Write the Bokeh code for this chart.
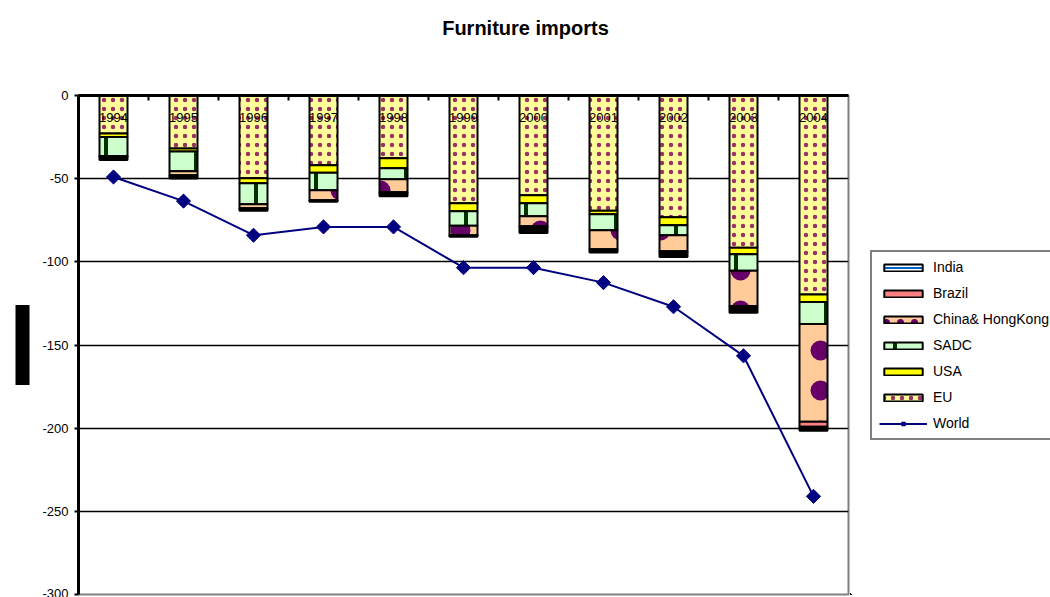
import math

from bokeh.embed import file_html
from bokeh.layouts import column, row
from bokeh.models import (ColumnDataSource, FixedTicker, Label, Legend,
                          LegendItem, LinearAxis, PrintfTickFormatter, Range1d,
                          Title)
from bokeh.plotting import figure
from bokeh.resources import INLINE

# Furniture imports by origin (negative = imports), stacked from zero downwards
years = ["1994", "1995", "1996", "1997", "1998", "1999",
         "2000", "2001", "2002", "2003", "2004"]
eu = [-22.8, -31.8, -49.8, -42.0, -37.8, -64.8, -60.0, -69.3, -73.2, -91.5, -119.7]
usa = [-2.1, -1.8, -3.0, -4.5, -6.0, -4.8, -4.8, -2.1, -4.8, -3.9, -4.5]
sadc = [-11.4, -12.0, -12.6, -10.5, -6.6, -8.7, -7.8, -9.6, -6.0, -9.9, -13.2]
china_hk = [-0.3, -2.4, -2.4, -6.0, -7.8, -5.7, -6.0, -11.4, -9.6, -21.3, -58.8]
brazil = [-0.2, -0.4, -0.3, -0.3, -0.3, -0.3, -1.0, -0.5, -0.5, -0.5, -3.0]
india = [-2.0, -1.5, -1.2, -0.6, -2.0, -0.6, -3.0, -1.5, -3.0, -3.5, -2.4]
world = [-49.0, -63.5, -84.0, -79.0, -79.0, -103.5, -103.5, -112.5, -127.0, -156.5, -241.0]
y_ticks = [0, -50, -100, -150, -200, -250, -300]

series_labels = ["EU", "USA", "SADC", "China& HongKong", "Brazil", "India"]
stackers = ["eu", "usa", "sadc", "china", "brazil", "india"]

FONT = "Liberation Sans"
positions = list(range(len(years)))

src = ColumnDataSource(dict(
    x=positions, eu=eu, usa=usa, sadc=sadc, china=china_hk,
    brazil=brazil, india=india, world=world,
))

bar_style = dict(
    fill_color=["#FFFF99", "#FFFF00", "#CCFFCC", "#FFCC99", "#FF8080", "#000000"],
    hatch_pattern=["dot", None, "vertical_line", "dot", None, None],
    hatch_color=["#993366", "#993366", "#003300", "#660066", "#000000", "#000000"],
    hatch_scale=[9, 9, 30, 40, 9, 9],
    hatch_weight=[4, 1, 4, 26, 1, 1],
    line_color="black", line_width=2,
)


def blank_panel(width, height, x_range=None):
    f = figure(width=width, height=height, output_backend="svg",
               toolbar_location=None, x_range=x_range or Range1d(0, 1),
               y_range=Range1d(0, 1), x_axis_location=None,
               y_axis_location=None, min_border=0, outline_line_color=None)
    f.grid.visible = False
    f.background_fill_color = "white"
    f.border_fill_color = "white"
    return f


# ---------------------------------------------------------------- title strip
head = blank_panel(1050, 50)
head.add_layout(Label(x=525, y=23, x_units="screen", y_units="screen",
                      text="Furniture imports", text_align="center",
                      text_baseline="middle", text_font=FONT,
                      text_font_size="20px", text_font_style="bold",
                      text_color="black"))

# ---------------------------------------------------------------- main chart
p = figure(width=850, height=547, output_backend="svg", toolbar_location=None,
           x_range=Range1d(-0.5, len(years) - 0.5),
           y_range=Range1d(min(y_ticks), max(y_ticks)),
           x_axis_location=None, y_axis_location=None,
           min_border_left=78, min_border_right=2,
           min_border_top=45, min_border_bottom=3)
p.background_fill_color = "white"
p.border_fill_color = "white"
p.outline_line_color = "#808080"
p.outline_line_width = 2

# horizontal gridlines
p.xgrid.visible = False
p.ygrid.ticker = FixedTicker(ticks=y_ticks)
p.ygrid.grid_line_color = "black"
p.ygrid.grid_line_width = 1.5

# value axis on the left
yaxis = LinearAxis(ticker=FixedTicker(ticks=y_ticks),
                   formatter=PrintfTickFormatter(format="%d"))
yaxis.axis_line_width = 3
yaxis.major_tick_out = 4
yaxis.major_tick_in = 0
yaxis.minor_tick_out = 0
yaxis.major_tick_line_width = 2
yaxis.major_label_text_font = FONT
yaxis.major_label_text_font_size = "13px"
yaxis.major_label_text_color = "black"
yaxis.major_label_standoff = 6
p.add_layout(yaxis, "left")

# value-axis caption block
p.add_layout(Title(text="\u00a0" * 24, align="center", text_font=FONT,
                   text_font_size="12px", text_color="black",
                   background_fill_color="black", background_fill_alpha=1,
                   standoff=20), "left")

# year axis along the zero line: labels under the line, ticks between years
xaxis = LinearAxis(ticker=FixedTicker(ticks=positions,
                                      minor_ticks=[i + 0.5 for i in positions[:-1]]))
xaxis.major_label_overrides = {i: y for i, y in zip(positions, years)}
xaxis.axis_line_width = 3
xaxis.major_tick_in = 0
xaxis.major_tick_out = 0
xaxis.minor_tick_in = 5
xaxis.minor_tick_out = 0
xaxis.minor_tick_line_width = 2
xaxis.minor_tick_line_color = "black"
xaxis.major_label_text_font = FONT
xaxis.major_label_text_font_size = "13px"
xaxis.major_label_text_color = "black"
xaxis.major_label_standoff = -26
p.add_layout(xaxis, "above")

p.vbar_stack(stackers, x="x", width=0.4, source=src, **bar_style)

# total imports
p.line(x="x", y="world", source=src, line_color="#000080", line_width=2)
p.scatter(x="x", y="world", source=src, marker="square", angle=math.pi / 4,
          size=10, fill_color="#000080", line_color="#000080")

# ---------------------------------------------------------------- legend panel
# Same series, drawn outside this panel's view; only the legend shows.
lg = blank_panel(200, 547, x_range=Range1d(100, 101))

key_style = dict(bar_style)
key_style["fill_color"] = bar_style["fill_color"][:5] + ["#FFFFFF"]
key_style["hatch_pattern"] = bar_style["hatch_pattern"][:5] + ["horizontal_line"]
key_style["hatch_color"] = bar_style["hatch_color"][:5] + ["#0066CC"]
key_style["hatch_scale"] = bar_style["hatch_scale"][:3] + [14, 9, 8]
key_style["hatch_weight"] = bar_style["hatch_weight"][:3] + [6, 1, 2]
keys = lg.vbar_stack(stackers, x="x", width=0.4, source=src, **key_style)
world_line = lg.line(x="x", y="world", source=src, line_color="#000080", line_width=2)
world_pts = lg.scatter(x="x", y="world", source=src, marker="square",
                       angle=math.pi / 4, size=10,
                       fill_color="#000080", line_color="#000080")

items = [LegendItem(label=lab, renderers=[r])
         for lab, r in zip(series_labels, keys)][::-1]
items.append(LegendItem(label="World", renderers=[world_line, world_pts]))

legend = Legend(items=items, location=(20, 154))
legend.glyph_width = 48
legend.glyph_height = 9
legend.label_height = 16
legend.spacing = 10
legend.padding = 7
legend.margin = 0
legend.label_standoff = 6
legend.label_text_font = FONT
legend.label_text_font_size = "14px"
legend.label_text_color = "black"
legend.border_line_color = "black"
legend.border_line_width = 2
legend.background_fill_color = "white"
legend.background_fill_alpha = 1
lg.add_layout(legend)

open("out.html", "w").write(file_html(column(head, row(p, lg)), INLINE))
